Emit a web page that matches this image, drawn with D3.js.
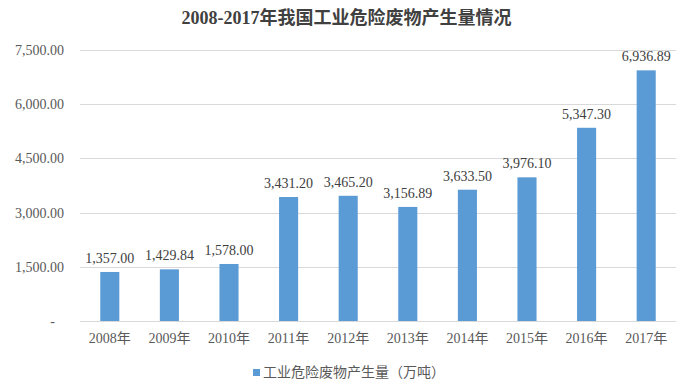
<!DOCTYPE html>
<html>
<head>
<meta charset="utf-8">
<script src="https://cdn.jsdelivr.net/npm/d3@7"></script>
<style>
  body { margin: 0; background: #fff; }
</style>
</head>
<body>
<div id="chart"></div>
<script>
const years = ["2008年", "2009年", "2010年", "2011年", "2012年", "2013年", "2014年", "2015年", "2016年", "2017年"];
const output = [1357.00, 1429.84, 1578.00, 3431.20, 3465.20, 3156.89, 3633.50, 3976.10, 5347.30, 6936.89];
const yTicks = [0, 1500, 3000, 4500, 6000, 7500];
const seriesName = "工业危险废物产生量（万吨）";
const title = "2008-2017年我国工业危险废物产生量情况";

const W = 693, H = 392;
const margin = { top: 50, right: 17, bottom: 71, left: 80 };
const width = W - margin.left - margin.right,
      height = H - margin.top - margin.bottom;
const font = "'Liberation Serif', 'Times New Roman', 'Noto Sans CJK SC', serif";
const textColor = "#595959";
const barColor = "#5b9bd5";

const svg = d3.select("#chart").append("svg")
  .attr("width", W)
  .attr("height", H)
  .style("font-family", font);

// Title
svg.append("text")
  .attr("x", W / 2)
  .attr("y", 24)
  .attr("text-anchor", "middle")
  .style("font-size", "18px")
  .style("font-weight", "bold")
  .attr("fill", "#404040")
  .text(title);

const g = svg.append("g")
  .attr("transform", `translate(${margin.left},${margin.top})`);

const x = d3.scaleBand()
  .domain(years)
  .range([0, width])
  .paddingInner(0.68)
  .paddingOuter(0.34);

const y = d3.scaleLinear()
  .domain([0, 7500])
  .range([height, 0]);

// Gridlines
g.append("g")
  .selectAll("line")
  .data(yTicks)
  .join("line")
  .attr("x1", 0)
  .attr("x2", width)
  .attr("y1", d => Math.round(y(d)) + 0.5)
  .attr("y2", d => Math.round(y(d)) + 0.5)
  .attr("stroke", "#d9d9d9")
  .attr("stroke-width", 1);

// Y axis
const yAxis = g.append("g")
  .call(d3.axisLeft(y)
    .tickValues(yTicks)
    .tickSize(0)
    .tickPadding(16)
    .tickFormat(d => d === 0 ? "-" : d3.format(",.2f")(d)));
yAxis.select(".domain").remove();
yAxis.selectAll("text")
  .style("font-size", "14px")
  .style("font-family", font)
  .attr("fill", textColor)
  .attr("dx", d => d === 0 ? -9 : 0);

// X axis
const xAxis = g.append("g")
  .attr("transform", `translate(0,${height})`)
  .call(d3.axisBottom(x).tickSize(0).tickPadding(12));
xAxis.select(".domain").remove();
xAxis.selectAll("text")
  .style("font-size", "14px")
  .style("font-family", font)
  .attr("fill", textColor);

// Bars
g.selectAll("rect.bar")
  .data(output)
  .join("rect")
  .attr("class", "bar")
  .attr("x", (d, i) => x(years[i]))
  .attr("y", d => y(d))
  .attr("width", x.bandwidth())
  .attr("height", d => height - y(d))
  .attr("fill", barColor);

// Data labels
g.selectAll("text.label")
  .data(output)
  .join("text")
  .attr("class", "label")
  .attr("x", (d, i) => x(years[i]) + x.bandwidth() / 2)
  .attr("y", d => y(d) - 9)
  .attr("text-anchor", "middle")
  .style("font-size", "14px")
  .attr("fill", "#404040")
  .text(d => d3.format(",.2f")(d));

// Legend
const legend = svg.append("g")
  .attr("transform", `translate(253,369)`);
legend.append("rect")
  .attr("width", 7)
  .attr("height", 7)
  .attr("fill", barColor);
legend.append("text")
  .attr("x", 10)
  .attr("y", 8)
  .style("font-size", "14px")
  .attr("fill", textColor)
  .text(seriesName);
</script>
</body>
</html>
